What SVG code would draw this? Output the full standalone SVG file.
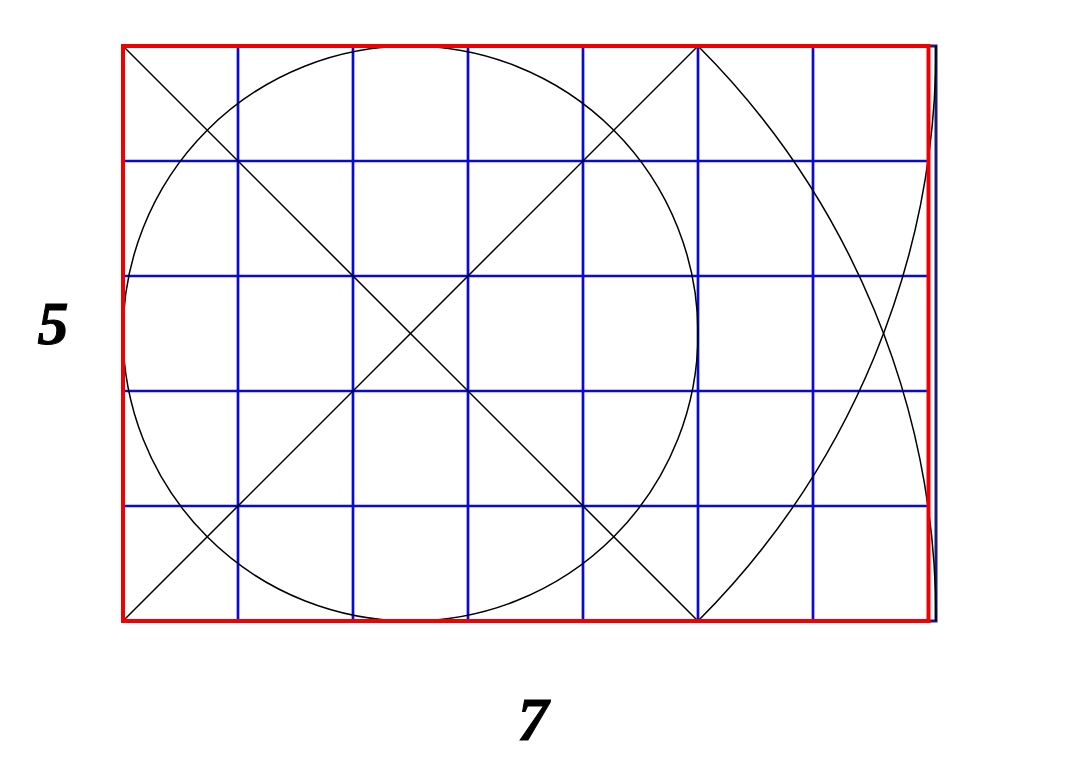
<svg xmlns="http://www.w3.org/2000/svg" width="1080" height="770" viewBox="0 0 1080 770">
<style>
.grid{stroke:#0a0ad8;stroke-width:2.7;fill:none}
.edge{stroke:#1a1a70;stroke-width:3;fill:none}
.geo{stroke:#000;stroke-width:1.5;fill:none}
.red{stroke:#f00000;stroke-width:4;fill:none}
.lbl{font-family:"Liberation Serif","Times New Roman",serif;font-weight:bold;font-style:italic;font-size:62px;fill:#000;stroke:#000;stroke-width:1}
</style>
<rect width="1080" height="770" fill="#fff"/>
<g id="grid">
<path class="grid" d="M238 46V621M353 46V621M468 46V621M583 46V621M698 46V621M813 46V621"/>
<path class="grid" d="M123 161H928M123 276H928M123 391H928M123 506H928"/>
</g>
<g id="root2-rect">
<path class="edge" d="M926 46H936V621H926"/>
</g>
<g id="construction">
<circle class="geo" cx="410.5" cy="333.5" r="287.5"/>
<line class="geo" x1="123" y1="46" x2="698" y2="621"/>
<line class="geo" x1="123" y1="621" x2="698" y2="46"/>
<path class="geo" d="M698 46A813.2 813.2 0 0 1 936 621"/>
<path class="geo" d="M698 621A813.2 813.2 0 0 0 936 46"/>
</g>
<g id="frame">
<rect class="red" x="123" y="46" width="805.5" height="575"/>
</g>
<g id="labels">
<text class="lbl" x="53" y="344" text-anchor="middle">5</text>
<text class="lbl" x="533" y="740" text-anchor="middle">7</text>
</g>
</svg>
